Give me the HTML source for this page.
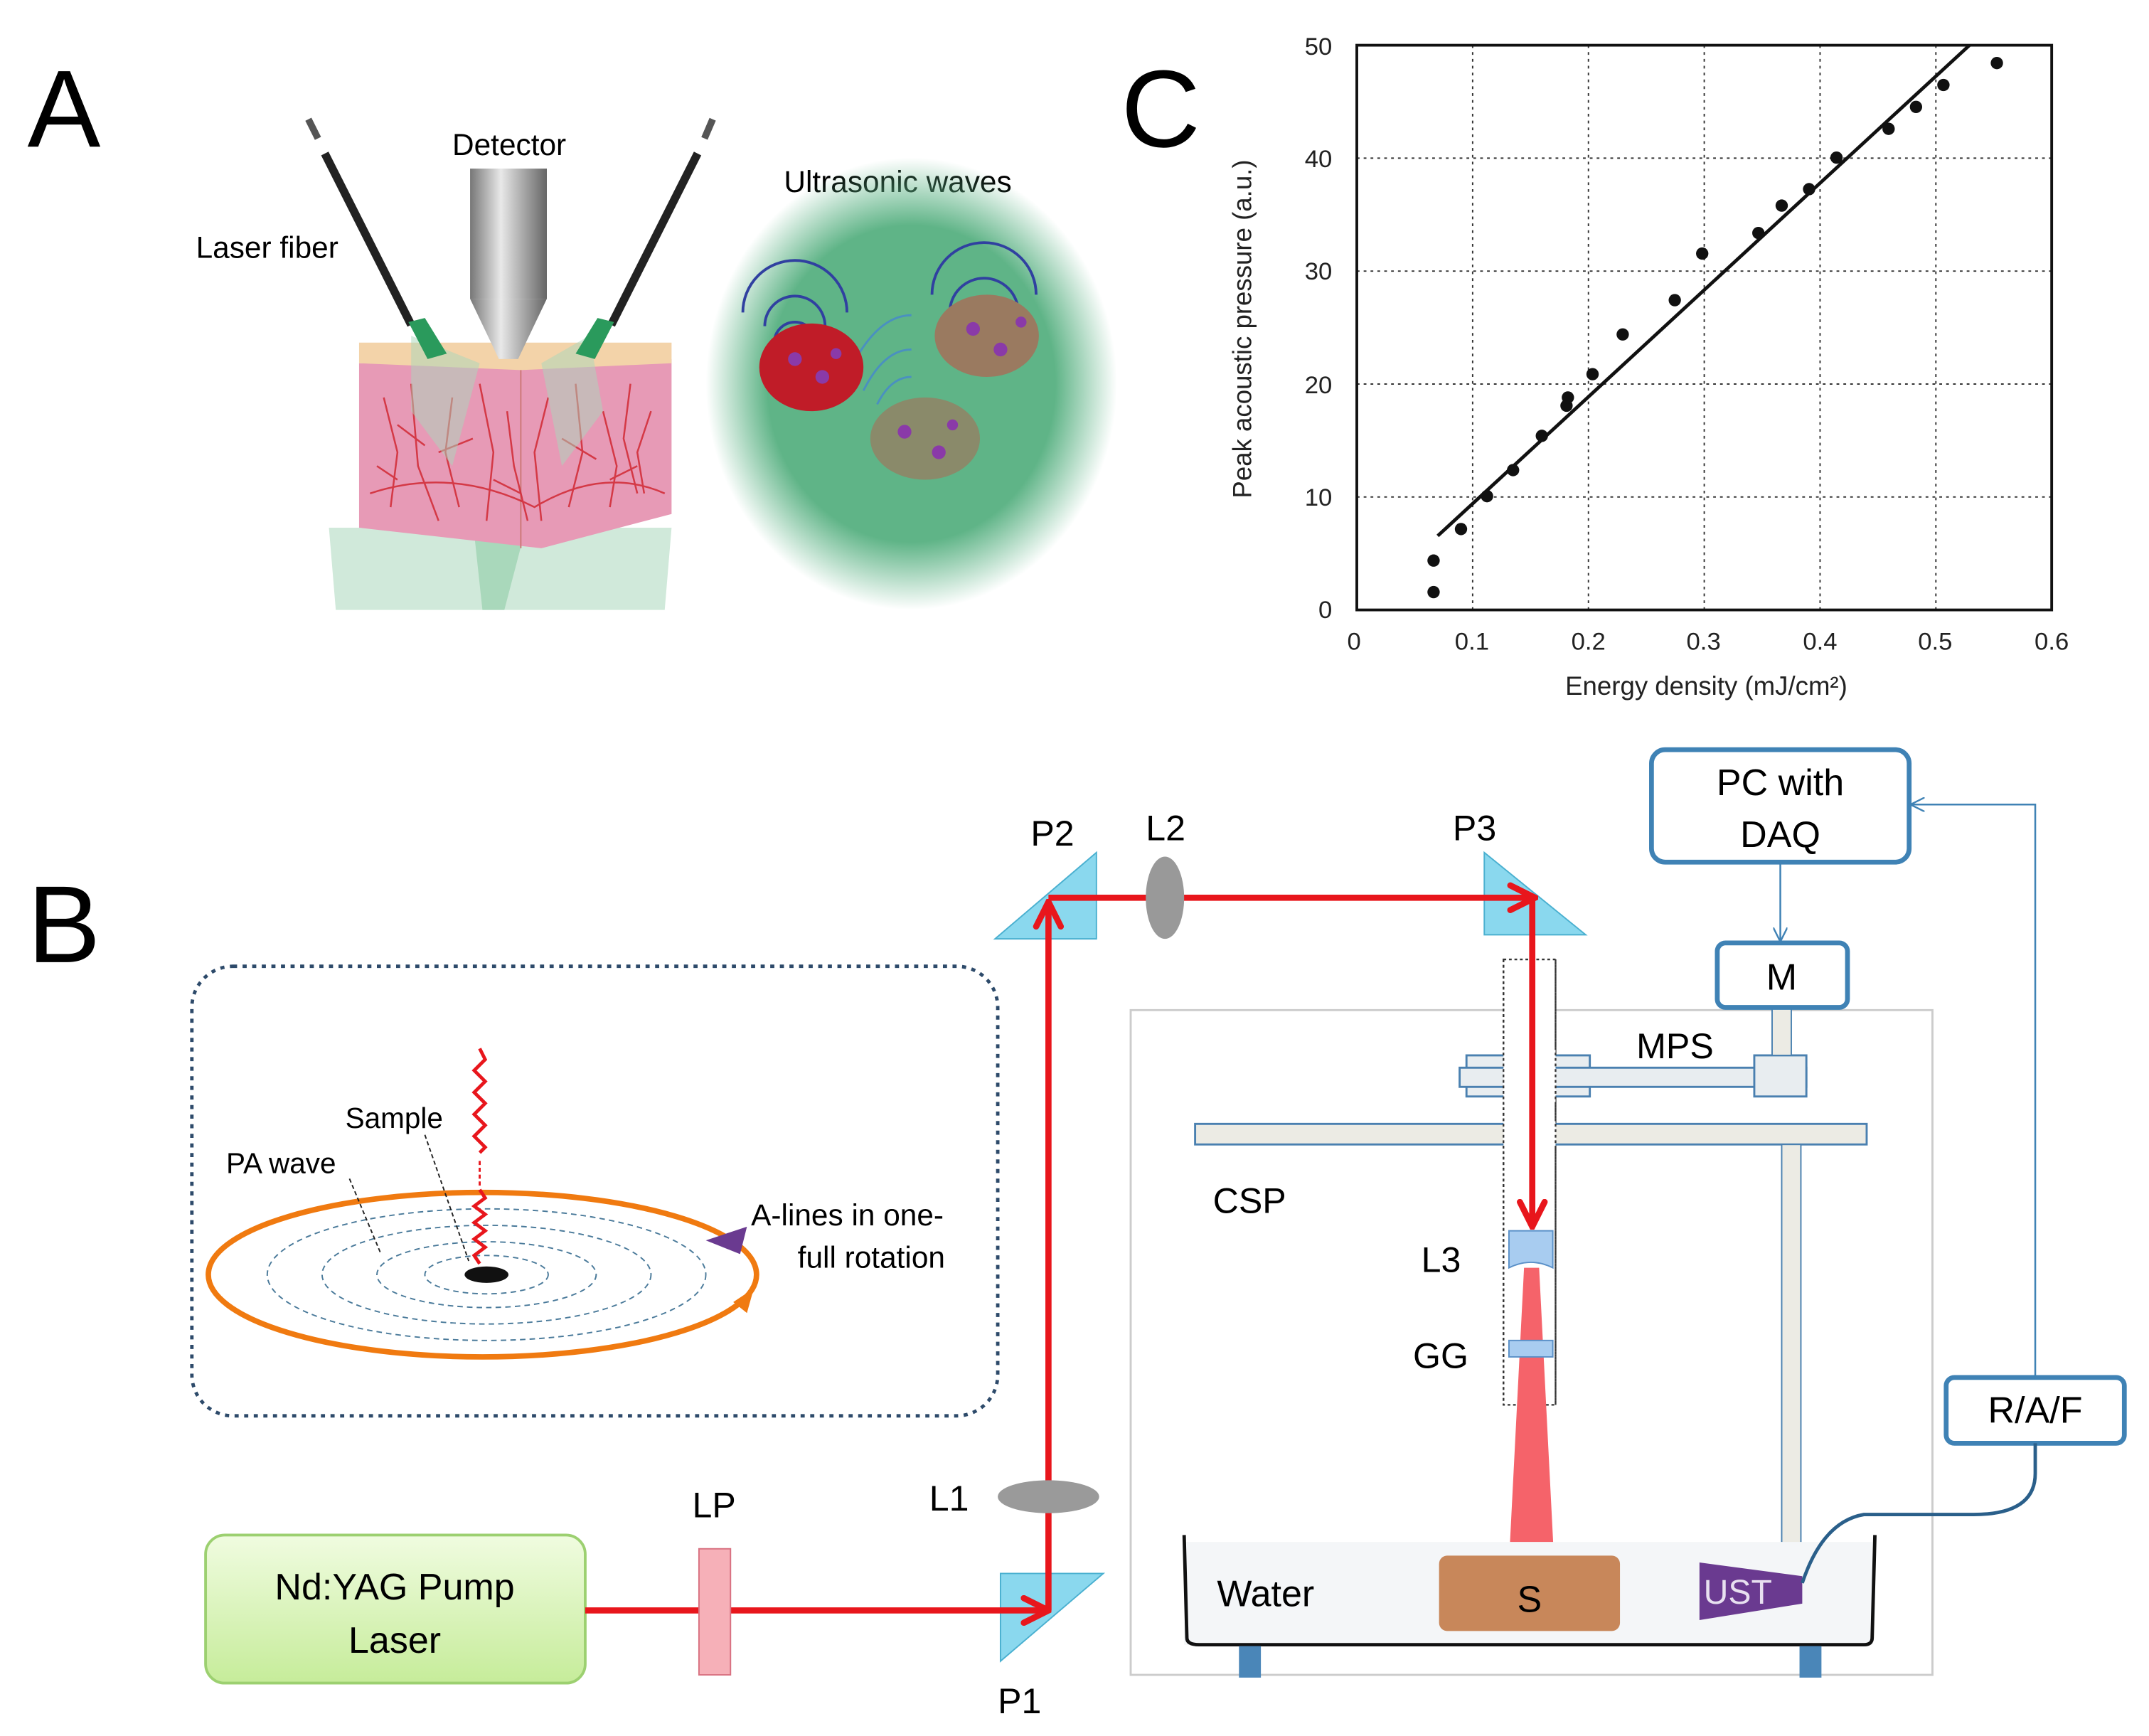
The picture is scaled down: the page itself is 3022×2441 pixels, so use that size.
<!DOCTYPE html>
<html><head><meta charset="utf-8"><style>
html,body{margin:0;padding:0;background:#fff;}
svg{display:block;}
text{font-family:"Liberation Sans",Arial,sans-serif;}
</style></head><body>
<svg width="3022" height="2441" viewBox="0 0 1568 1266.6" preserveAspectRatio="none" xmlns="http://www.w3.org/2000/svg">
<defs>
<radialGradient id="gblob" cx="0.5" cy="0.5" r="0.5">
<stop offset="0.7" stop-color="#5fb487"/><stop offset="1" stop-color="#5fb487" stop-opacity="0"/>
</radialGradient>
<linearGradient id="det" x1="0" x2="1"><stop offset="0" stop-color="#777"/><stop offset="0.4" stop-color="#e8e8e8"/><stop offset="1" stop-color="#666"/></linearGradient>
<linearGradient id="pcl" x1="0" x2="0" y1="0" y2="1"><stop offset="0" stop-color="#f0fce0"/><stop offset="1" stop-color="#c6ec9a"/></linearGradient>
<marker id="ar" viewBox="0 0 10 10" refX="9" refY="5" markerWidth="5" markerHeight="5" orient="auto"><path d="M1,1 L9,5 L1,9" fill="none" stroke="#e8161c" stroke-width="2" stroke-linecap="round"/></marker>
<marker id="ab" viewBox="0 0 10 10" refX="9" refY="5" markerWidth="8" markerHeight="8" orient="auto"><path d="M0,0 L10,5 L0,10" fill="none" stroke="#3f82b5" stroke-width="1.2"/></marker>
</defs>

<!-- Panel labels -->
<text x="20" y="107" font-size="80">A</text>
<text x="818" y="107" font-size="80">C</text>
<text x="20" y="702" font-size="80">B</text>

<!-- Panel A -->
<text x="330" y="113" font-size="22">Detector</text>
<text x="143" y="188" font-size="22">Laser fiber</text>
<text x="572" y="140" font-size="22">Ultrasonic waves</text>
<path d="M240,385 L490,385 L485,445 L245,445 Z" fill="#d0e9da"/>
<path d="M345,380 L385,380 L368,445 L352,445 Z" fill="#a9d8bb"/>
<path d="M262,265 L380,268 L490,262 L490,375 L395,400 L262,385 Z" fill="#e79ab6"/>
<path d="M262,250 L380,250 L490,250 L490,265 L380,270 L262,265 Z" fill="#f3d3a9"/>
<path d="M380,270 L380,400" stroke="#c77" stroke-width="1"/>
<g stroke="#d0202a" stroke-width="1.3" fill="none" opacity="0.8">
<path d="M280,290 l10,40 l-5,40 M300,280 l5,60 l15,40 M330,290 l-5,40 l10,40 M350,280 l10,50 l-5,50 M370,300 l5,40 l10,40 M400,290 l-10,40 l5,50 M420,280 l5,50 l-10,40 M440,300 l10,40 l-5,30 M460,280 l-5,40 l10,40 M475,300 l-10,30 l5,30 M270,360 q60,-20 120,10 q50,-30 95,-10 M290,310 l20,15 M320,330 l25,-10 M410,320 l25,15 M445,350 l20,-10 M275,340 l15,10 M360,350 l20,10"/>
</g>
<path d="M300,245 L350,265 L330,340 L300,300 Z" fill="#a9d8bb" opacity="0.5"/>
<path d="M430,245 L395,265 L410,340 L440,300 Z" fill="#a9d8bb" opacity="0.5"/>
<rect x="343" y="123" width="56" height="95" fill="url(#det)"/>
<path d="M343,218 L399,218 L378,262 L364,262 Z" fill="url(#det)"/>
<line x1="225" y1="87" x2="232" y2="101" stroke="#555" stroke-width="5"/>
<line x1="237" y1="112" x2="300" y2="237" stroke="#222" stroke-width="6"/>
<path d="M298,235 L310,232 L326,258 L312,262 Z" fill="#2a9a5c"/>
<line x1="520" y1="87" x2="514" y2="101" stroke="#555" stroke-width="5"/>
<line x1="509" y1="112" x2="446" y2="237" stroke="#222" stroke-width="6"/>
<path d="M448,235 L436,232 L420,258 L434,262 Z" fill="#2a9a5c"/>
<ellipse cx="665" cy="280" rx="150" ry="165" fill="url(#gblob)"/>
<g fill="none" stroke="#3040a0" stroke-width="2">
<path d="M542,228 a38,38 0 0 1 76,0 M558,238 a22,22 0 0 1 44,0 M565,250 a15,15 0 0 1 30,0"/>
<path d="M680,215 a38,38 0 0 1 76,0 M693,228 a25,25 0 0 1 50,0 M703,240 a15,15 0 0 1 30,0"/>
</g>
<g fill="none" stroke="#4a90c0" stroke-width="1.5"><path d="M620,270 q20,-40 45,-40 M630,285 q15,-30 35,-30 M640,295 q10,-20 25,-20"/></g>
<ellipse cx="592" cy="268" rx="38" ry="32" fill="#c01c28"/>
<ellipse cx="720" cy="245" rx="38" ry="30" fill="#9a7a60"/>
<ellipse cx="675" cy="320" rx="40" ry="30" fill="#8a8a6a"/>
<g fill="#8a3aa8"><circle cx="580" cy="262" r="5"/><circle cx="600" cy="275" r="5"/><circle cx="610" cy="258" r="4"/><circle cx="710" cy="240" r="5"/><circle cx="730" cy="255" r="5"/><circle cx="745" cy="235" r="4"/><circle cx="660" cy="315" r="5"/><circle cx="685" cy="330" r="5"/><circle cx="695" cy="310" r="4"/></g>

<!-- Panel C chart -->
<g stroke="#333" stroke-width="1" stroke-dasharray="2,3">
<line x1="1074.5" y1="33" x2="1074.5" y2="445"/><line x1="1159" y1="33" x2="1159" y2="445"/><line x1="1243.5" y1="33" x2="1243.5" y2="445"/><line x1="1328" y1="33" x2="1328" y2="445"/><line x1="1412.5" y1="33" x2="1412.5" y2="445"/>
<line x1="990" y1="115.4" x2="1497" y2="115.4"/><line x1="990" y1="197.8" x2="1497" y2="197.8"/><line x1="990" y1="280.2" x2="1497" y2="280.2"/><line x1="990" y1="362.6" x2="1497" y2="362.6"/>
</g>
<rect x="990" y="33" width="507" height="412" fill="none" stroke="#111" stroke-width="2"/>
<g font-size="18" fill="#222" text-anchor="end">
<text x="972" y="40">50</text><text x="972" y="122">40</text><text x="972" y="204">30</text><text x="972" y="287">20</text><text x="972" y="369">10</text><text x="972" y="451">0</text>
</g>
<g font-size="18" fill="#222" text-anchor="middle">
<text x="988" y="474">0</text><text x="1074" y="474">0.1</text><text x="1159" y="474">0.2</text><text x="1243" y="474">0.3</text><text x="1328" y="474">0.4</text><text x="1412" y="474">0.5</text><text x="1497" y="474">0.6</text>
</g>
<text x="1245" y="507" font-size="19" text-anchor="middle" fill="#222">Energy density (mJ/cm²)</text>
<text transform="translate(913,240) rotate(-90)" font-size="19" text-anchor="middle" fill="#222">Peak acoustic pressure (a.u.)</text>
<line x1="1049" y1="391" x2="1437" y2="33" stroke="#111" stroke-width="2.5"/>
<g fill="#111">
<circle cx="1046" cy="432" r="4.5"/><circle cx="1046" cy="409" r="4.5"/><circle cx="1066" cy="386" r="4.5"/><circle cx="1085" cy="362" r="4.5"/><circle cx="1104" cy="343" r="4.5"/><circle cx="1125" cy="318" r="4.5"/><circle cx="1143" cy="296" r="4.5"/><circle cx="1144" cy="290" r="4.5"/><circle cx="1162" cy="273" r="4.5"/><circle cx="1184" cy="244" r="4.5"/><circle cx="1222" cy="219" r="4.5"/><circle cx="1242" cy="185" r="4.5"/><circle cx="1283" cy="170" r="4.5"/><circle cx="1300" cy="150" r="4.5"/><circle cx="1320" cy="138" r="4.5"/><circle cx="1340" cy="115" r="4.5"/><circle cx="1378" cy="94" r="4.5"/><circle cx="1398" cy="78" r="4.5"/><circle cx="1418" cy="62" r="4.5"/><circle cx="1457" cy="46" r="4.5"/>
</g>

<!-- Panel B inset -->
<rect x="140" y="705" width="588" height="328" rx="30" fill="none" stroke="#2d4a6a" stroke-width="2.5" stroke-dasharray="3,4"/>
<g fill="none" stroke="#4a7a9a" stroke-width="1" stroke-dasharray="4,3">
<ellipse cx="355" cy="930" rx="160" ry="48"/><ellipse cx="355" cy="930" rx="120" ry="36"/><ellipse cx="355" cy="930" rx="80" ry="24"/><ellipse cx="355" cy="930" rx="45" ry="14"/>
</g>
<ellipse cx="352" cy="930" rx="200" ry="60" fill="none" stroke="#f07a10" stroke-width="4"/>
<path d="M535,950 L550,940 L545,958 Z" fill="#f07a10"/>
<ellipse cx="355" cy="930" rx="16" ry="6" fill="#111"/>
<path d="M350,765 l4,8 l-8,8 l8,8 l-8,8 l8,8 l-8,8 l8,8 l-8,8 l8,8 l-4,4 M350,868 l4,6 l-8,6 l8,6 l-8,6 l8,6 l-8,6 l8,6 l-8,6 l4,6" fill="none" stroke="#e8161c" stroke-width="2.5"/>
<line x1="350" y1="847" x2="350" y2="866" stroke="#e8161c" stroke-width="1.5" stroke-dasharray="3,2"/>
<path d="M515,905 L545,895 L540,915 Z" fill="#6a3a90"/>
<text x="252" y="823" font-size="21">Sample</text>
<text x="165" y="856" font-size="21">PA wave</text>
<text x="548" y="894" font-size="22">A-lines in one-</text>
<text x="582" y="925" font-size="22">full rotation</text>
<line x1="310" y1="828" x2="342" y2="920" stroke="#222" stroke-width="1" stroke-dasharray="3,2"/>
<line x1="255" y1="860" x2="278" y2="915" stroke="#222" stroke-width="1" stroke-dasharray="3,2"/>

<!-- laser -->
<rect x="150" y="1120" width="277" height="108" rx="14" fill="url(#pcl)" stroke="#9cd070" stroke-width="2"/>
<text x="288" y="1167" font-size="27" text-anchor="middle">Nd:YAG Pump</text>
<text x="288" y="1206" font-size="27" text-anchor="middle">Laser</text>
<text x="521" y="1107" font-size="26" text-anchor="middle">LP</text>
<!-- prisms first -->
<path d="M730,1148 L805,1148 L730,1212 Z" fill="#8ad8ee" stroke="#4ab0d0"/>
<path d="M800,622 L800,685 L726,685 Z" fill="#8ad8ee" stroke="#4ab0d0"/>
<path d="M1083,622 L1157,682 L1083,682 Z" fill="#8ad8ee" stroke="#4ab0d0"/>
<text x="728" y="1250" font-size="26">P1</text>
<text x="752" y="617" font-size="26">P2</text>
<text x="1060" y="613" font-size="26">P3</text>
<text x="836" y="613" font-size="26">L2</text>
<text x="678" y="1102" font-size="26">L1</text>

<line x1="427" y1="1175" x2="765" y2="1175" stroke="#e8161c" stroke-width="4.5" marker-end="url(#ar)"/>
<rect x="510" y="1130" width="23" height="92" fill="#f6b0b8" stroke="#d87080"/>
<line x1="765" y1="1175" x2="765" y2="658" stroke="#e8161c" stroke-width="4.5" marker-end="url(#ar)"/>
<ellipse cx="765" cy="1092" rx="37" ry="12" fill="#9a9a9a"/>
<line x1="765" y1="655" x2="1120" y2="655" stroke="#e8161c" stroke-width="4.5" marker-end="url(#ar)"/>
<ellipse cx="850" cy="655" rx="14" ry="30" fill="#999"/>

<!-- big box -->
<rect x="825" y="737" width="585" height="485" fill="none" stroke="#ccc" stroke-width="1.5"/>
<rect x="1097" y="700" width="38" height="325" fill="#fff" stroke="#333" stroke-width="1.2" stroke-dasharray="2,2"/>
<rect x="1070" y="770" width="90" height="30" fill="#e8edf0" stroke="#4a80b0" stroke-width="1.5"/>
<rect x="1065" y="779" width="253" height="14" fill="#e8edf0" stroke="#4a80b0" stroke-width="1.5"/>
<rect x="1280" y="770" width="38" height="30" fill="#e8edf0" stroke="#4a80b0" stroke-width="1.5"/>
<rect x="1097" y="765" width="38" height="40" fill="#fff"/>
<rect x="1293" y="735" width="14" height="35" fill="#ecebe4" stroke="#4a80b0"/>
<text x="1194" y="772" font-size="26">MPS</text>
<rect x="872" y="820" width="490" height="15" fill="#ecebe4" stroke="#4a80b0" stroke-width="1.5"/>
<rect x="1097" y="818" width="38" height="20" fill="#fff"/>
<line x1="1097" y1="700" x2="1097" y2="1025" stroke="#333" stroke-width="1.2" stroke-dasharray="2,2"/>
<line x1="1135" y1="700" x2="1135" y2="1025" stroke="#333" stroke-width="1.2" stroke-dasharray="2,2"/>
<rect x="1300" y="835" width="14" height="300" fill="#ecebe4" stroke="#4a80b0"/>
<text x="885" y="885" font-size="26">CSP</text>
<line x1="1118" y1="655" x2="1118" y2="895" stroke="#e8161c" stroke-width="4.5" marker-end="url(#ar)"/>
<path d="M1112,925 L1123,925 L1134,1140 L1101,1140 Z" fill="#f5636a"/>
<path d="M1101,898 L1133,898 L1133,925 Q1117,917 1101,925 Z" fill="#a8ccf0" stroke="#5a90c8"/>
<rect x="1101" y="978" width="32" height="12" fill="#a8ccf0" stroke="#5a90c8"/>
<text x="1037" y="928" font-size="26">L3</text>
<text x="1031" y="998" font-size="26">GG</text>
<!-- tank -->
<rect x="864" y="1125" width="502" height="75" fill="#f4f6f8"/>
<path d="M864,1120 L866,1195 Q866,1200 875,1200 L1360,1200 Q1366,1200 1366,1195 L1368,1120" fill="none" stroke="#111" stroke-width="2.5"/>
<rect x="904" y="1201" width="16" height="23" fill="#4a86b8"/>
<rect x="1313" y="1201" width="16" height="23" fill="#4a86b8"/>
<rect x="1050" y="1135" width="132" height="55" rx="6" fill="#c8875a"/>
<text x="1116" y="1176" font-size="27" text-anchor="middle">S</text>
<text x="888" y="1172" font-size="27">Water</text>
<path d="M1240,1140 L1315,1150 L1315,1170 L1240,1182 Z" fill="#6a3a90"/>
<text x="1243" y="1170" font-size="25" fill="#e8e0f0">UST</text>
<!-- control boxes -->
<rect x="1205" y="547" width="188" height="82" rx="10" fill="#fff" stroke="#3f82b5" stroke-width="3.5"/>
<text x="1299" y="580" font-size="27" text-anchor="middle">PC  with</text>
<text x="1299" y="618" font-size="27" text-anchor="middle">DAQ</text>
<rect x="1253" y="688" width="95" height="47" rx="6" fill="#fff" stroke="#3f82b5" stroke-width="3.5"/>
<text x="1300" y="722" font-size="27" text-anchor="middle">M</text>
<line x1="1299" y1="629" x2="1299" y2="686" stroke="#3f82b5" stroke-width="1.3" marker-end="url(#ab)"/>
<rect x="1420" y="1005" width="130" height="48" rx="6" fill="#fff" stroke="#3f82b5" stroke-width="3.5"/>
<text x="1485" y="1038" font-size="27" text-anchor="middle">R/A/F</text>
<path d="M1485,1005 L1485,587 L1395,587" fill="none" stroke="#3f82b5" stroke-width="1.3" marker-end="url(#ab)"/>
<path d="M1485,1053 L1485,1075 Q1485,1105 1440,1105 L1360,1105 Q1330,1110 1315,1155" fill="none" stroke="#2a5f8a" stroke-width="2.5"/>
</svg>
</body></html>
